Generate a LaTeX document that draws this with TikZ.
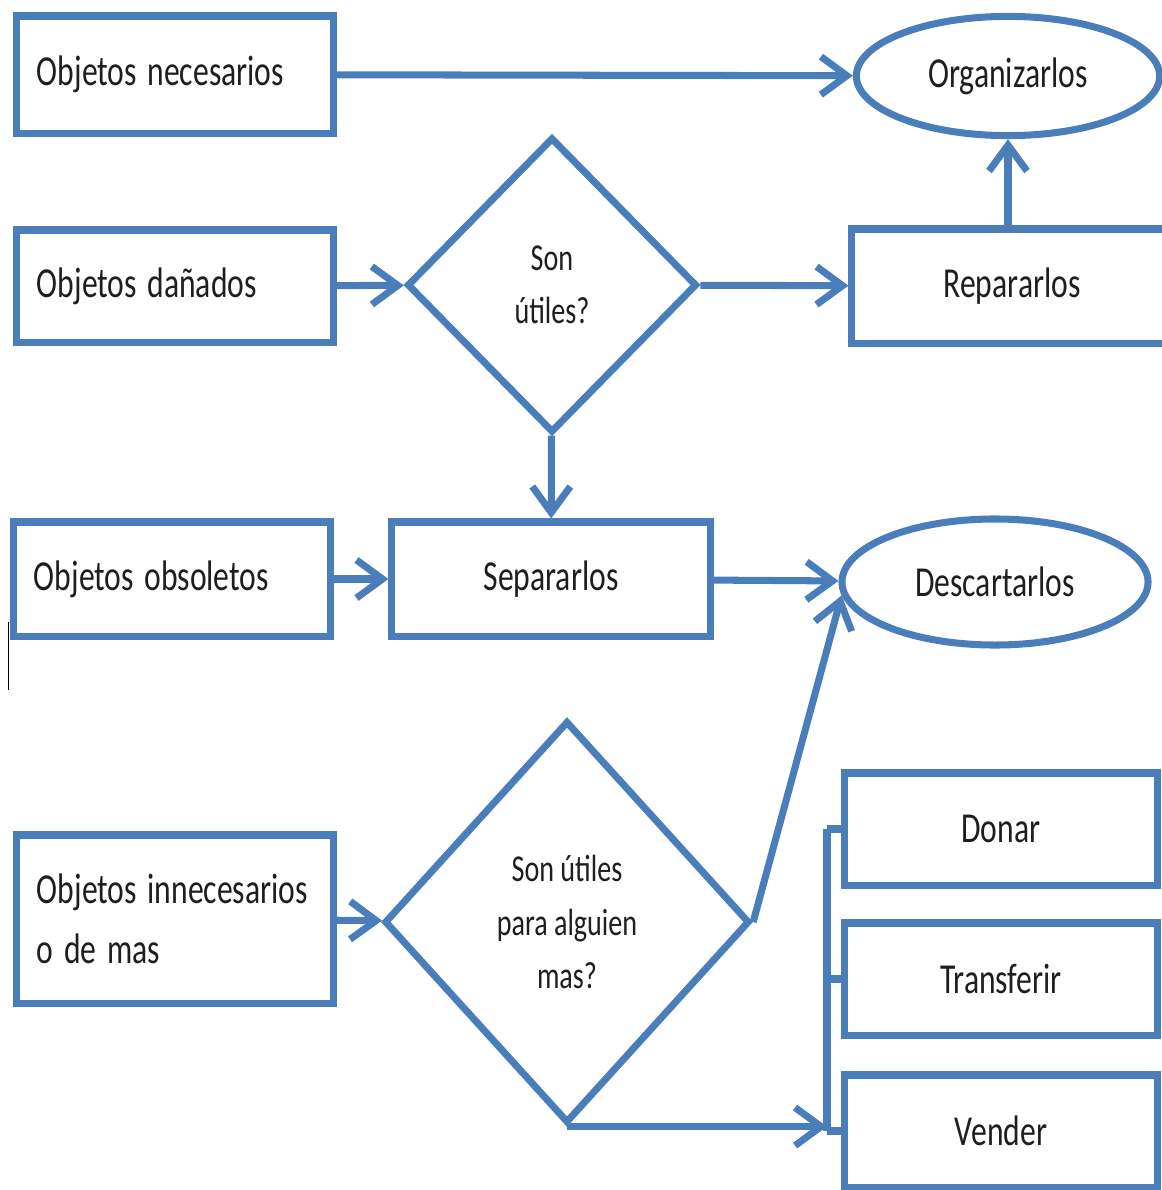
\documentclass[tikz,border=0pt]{standalone}
\usepackage{fontspec}
\setmainfont{Carlito}
\usepackage{graphicx}
\usetikzlibrary{shapes.geometric,arrows.meta}

\definecolor{azul}{RGB}{74,126,187}
\definecolor{tinta}{RGB}{30,30,30}
\newcommand{\alto}[1]{\scalebox{1}[1.35]{#1}}

\tikzset{
  caja/.style={draw=azul, line width=5pt, rectangle, inner sep=0pt,
    minimum width=7.9cm, minimum height=2.85cm, text=tinta,
    font=\fontsize{22.5}{43}\selectfont},
  cajaizq/.style={caja, text width=6.9cm, inner xsep=0.5cm, align=left},
  rombo/.style={draw=azul, line width=5pt, diamond, inner sep=0pt,
    text=tinta, align=center, font=\fontsize{20}{38}\selectfont},
  ovalo/.style={draw=azul, line width=5pt, ellipse, inner sep=0pt,
    text=tinta, font=\fontsize{22.5}{43}\selectfont},
  flecha/.style={draw=azul, line width=5pt,
    -{Straight Barb[length=0.65cm,width=0.95cm]}},
  linea/.style={draw=azul, line width=5pt}
}

\begin{document}
\begin{tikzpicture}[x=0.025cm, y=-0.025cm]

    \useasboundingbox (0,0) rectangle (1162,1190);
    \clip (0,0) rectangle (1162,1190);

    % columna izquierda
    \node[cajaizq, minimum height=2.925cm] (nec) at (175,74.5) {\alto{Objetos necesarios}};
    \node[cajaizq, minimum height=2.8cm] (dan) at (175,286) {\alto{Objetos dañados}};
    \node[cajaizq] (obs) at (172,579) {\alto{Objetos obsoletos}};
    \node[cajaizq, minimum height=4.2cm] (inn) at (175,919)
      {\alto{Objetos innecesarios}\\\alto{o de mas}};

    % centro
    \node[rombo, minimum width=7.25cm, minimum height=7.38cm] (d1) at (552,285)
      {\alto{Son}\\\alto{útiles?}};
    \node[caja, minimum width=7.95cm] (sep) at (551,579) {\alto{Separarlos}};
    \node[rombo, minimum width=9.13cm, minimum height=10.05cm] (d2) at (567,922)
      {\alto{Son útiles}\\\alto{para alguien}\\\alto{mas?}};

    % derecha
    \node[ovalo, minimum width=7.58cm, minimum height=2.98cm] (org) at (1008,76) {\alto{Organizarlos}};
    \node[caja, minimum width=8cm] (rep) at (1012,286) {\alto{Repararlos}};
    \node[ovalo, minimum width=7.65cm, minimum height=3.15cm] (desc) at (995,582) {\alto{Descartarlos}};

    \foreach \nombre/\texto/\y in {don/Donar/829, tra/Transferir/979, ven/Vender/1131}{
      \node[caja, minimum width=7.8cm, minimum height=2.8cm] (\nombre) at (1001,\y) {\alto{\texto}};
    }

    \coordinate (corchete) at (827,1127);

    % flechas
    \draw[flecha] (nec) -- (org);
    \draw[flecha] (dan) -- (d1);
    \draw[flecha] (d1) -- (rep);
    \draw[flecha] (rep.north -| org.south) -- (org.south);
    \draw[flecha] (d1) -- (sep);
    \draw[flecha] (obs) -- (sep);
    \draw[flecha] (sep) -- (desc);
    \draw[flecha] (inn) -- (d2);
    \draw[flecha] (d2.east) -- (desc.185);
    \draw[flecha] (d2.south) -- (d2.south -| corchete);

    \draw[linea] (don.west -| corchete) -- (ven.west -| corchete);
    \foreach \nombre in {don,tra,ven}{
      \draw[linea] (\nombre.west) -- (\nombre.west -| corchete);
    }

    \draw[line width=0.6pt] (8,622) -- (8,690);

\end{tikzpicture}
\end{document}
